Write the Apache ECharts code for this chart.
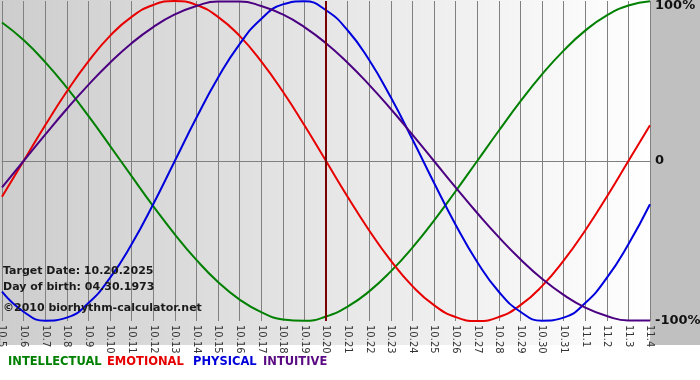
<!DOCTYPE html>
<html><head><meta charset="utf-8">
<script src="https://cdn.jsdelivr.net/npm/echarts@6/dist/echarts.min.js"></script>
<style>html,body{margin:0;padding:0;background:#fff}#c{width:700px;height:380px}</style>
</head><body><div id="c"></div>
<script>
const categories = ['10.5','10.6','10.7','10.8','10.9','10.10','10.11','10.12','10.13','10.14','10.15','10.16','10.17','10.18','10.19','10.20','10.21','10.22','10.23','10.24','10.25','10.26','10.27','10.28','10.29','10.30','10.31','11.1','11.2','11.3','11.4'];
const intellectual = [86.6,75.6,61.8,45.8,28.2,9.5,-9.5,-28.2,-45.8,-61.8,-75.6,-86.6,-94.5,-99.0,-99.9,-97.2,-91.0,-81.5,-69.0,-54.1,-37.2,-18.9,0,18.9,37.2,54.1,69.0,81.5,91.0,97.2,99.9];
const emotional = [-22.3,0,22.3,43.4,62.3,78.2,90.1,97.5,100,97.5,90.1,78.2,62.3,43.4,22.3,0,-22.3,-43.4,-62.3,-78.2,-90.1,-97.5,-100,-97.5,-90.1,-78.2,-62.3,-43.4,-22.3,0,22.3];
const physical = [-81.7,-94.2,-99.8,-97.9,-88.8,-73.1,-52.0,-27.0,0,27.0,52.0,73.1,88.8,97.9,99.8,94.2,81.7,63.1,39.8,13.6,-13.6,-39.8,-63.1,-81.7,-94.2,-99.8,-97.9,-88.8,-73.1,-52.0,-27.0];
const intuitive = [-16.5,0,16.5,32.5,47.6,61.4,73.6,83.7,91.6,96.9,99.7,99.7,96.9,91.6,83.7,73.6,61.4,47.6,32.5,16.5,0,-16.5,-32.5,-47.6,-61.4,-73.6,-83.7,-91.6,-96.9,-99.7,-99.7];
const seriesNames = ['INTELLECTUAL','EMOTIONAL','PHYSICAL','INTUITIVE'];
const yTicks = {'100':'100%','0':'0','-100':'-100%'};
const targetDay = '10.20';
const infoLines = ['Target Date: 10.20.2025','Day of birth: 04.30.1973','\u00a92010 biorhythm-calculator.net'];

const FONT = '"DejaVu Sans", Verdana, sans-serif';
const colors = ['#008000','#e80000','#0000dd','#4b0082'];
const legendColors = ['#008000','#e80000','#0000dd','#5a0a82'];
const legendX = [8,107,193,263];
const chart = echarts.init(document.getElementById('c'), null, {renderer:'canvas'});
const datasets = [intellectual, emotional, physical, intuitive];
const series = datasets.map((d,i)=>({name:seriesNames[i], type:'line', data:d, smooth:0.5, symbol:'none',
  lineStyle:{color:colors[i], width:2}, itemStyle:{color:colors[i]}, z:3}));
series[0].markLine = {silent:true, symbol:'none', label:{show:false},
  lineStyle:{color:'#7a0000', width:2, type:'solid'}, data:[{xAxis:targetDay}], z:4};
chart.setOption({
  animation:false,
  backgroundColor:'#ffffff',
  graphic:[
    {type:'rect', z:-10, silent:true, shape:{x:0,y:0,width:650,height:345},
     style:{fill:new echarts.graphic.LinearGradient(0,0,1,0,[{offset:0,color:'#cdcdcd'},{offset:1,color:'#ffffff'}])}},
    {type:'rect', z:-9, silent:true, shape:{x:650,y:0,width:50,height:345}, style:{fill:'#c0c0c0'}},
    ...infoLines.map((t,i)=>({type:'text', z:10, left:3, top:[266,282,303][i],
      style:{text:t, fill:'#1a1a1a', font:'bold 11px '+FONT}})),
    ...seriesNames.map((t,i)=>({type:'text', z:10, left:legendX[i], top:356,
      style:{text:t, fill:legendColors[i], font:'bold 11.5px '+FONT}}))
  ],
  grid:{left:2, right:50, top:1, bottom:59, containLabel:false, outerBoundsMode:'none'},
  xAxis:{type:'category', data:categories, boundaryGap:false,
    axisLine:{show:true, lineStyle:{color:'#808080'}},
    axisTick:{show:true, interval:0, length:4, lineStyle:{color:'#808080'}},
    axisLabel:{interval:0, rotate:-90, color:'#333', fontFamily:FONT, fontSize:10, margin:4},
    splitLine:{show:true, interval:0, lineStyle:{color:'#808080', width:1}}
  },
  yAxis:{type:'value', position:'right', min:-100, max:100, interval:100,
    axisLine:{show:false}, axisTick:{show:false},
    axisLabel:{color:'#111', fontFamily:FONT, fontWeight:'bold', fontSize:13, margin:5,
      formatter:v=>v===100 ? '{top|'+yTicks[String(v)]+'}' : yTicks[String(v)],
      rich:{top:{color:'#111', fontFamily:FONT, fontWeight:'bold', fontSize:13, padding:[10,0,0,0]}}},
    splitLine:{show:true, lineStyle:{color:['transparent','#808080','transparent'], width:1}}
  },
  series
});
</script></body></html>
